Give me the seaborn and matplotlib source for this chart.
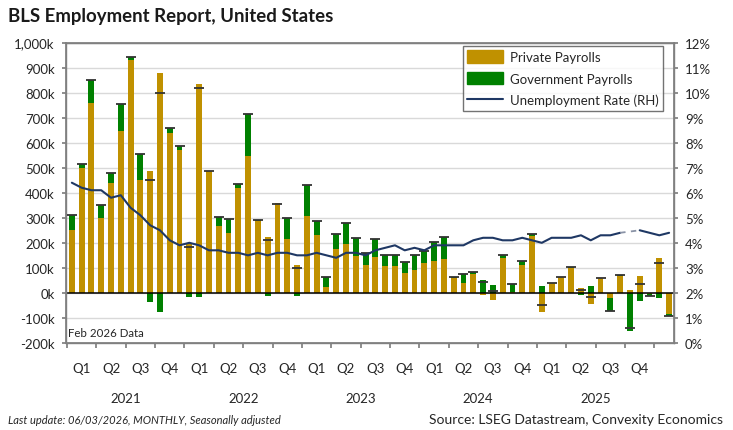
import numpy as np
import pandas as pd
import matplotlib
matplotlib.use('Agg')
import matplotlib.pyplot as plt
from matplotlib.patches import Patch
from matplotlib.lines import Line2D
from matplotlib.ticker import FuncFormatter
import seaborn as sns

# monthly payroll changes, thousands (Jan 2021 .. Feb 2026)
private = [251, 500, 760, 301, 440, 648, 931, 451, 488, 877, 640, 571,
           199, 836, 487, 268, 241, 417, 548, 288, 224, 357, 215, 110,
           309, 232, 25, 176, 196, 149, 112, 143, 109, 109, 80, 93,
           120, 129, 136, 59, 39, 76, -8, -27, 140, 2, 112, 229,
           -77, 39, 63, 101, 19, -44, 60, -19, 68, 12, 69, -3,
           141, -85]
government = [62, 15, 91, 51, 37, 108, 13, 102, -36, -77, 17, 16,
              -15, -17, -2, 36, 56, 16, 167, 2, -11, -2, 85, -12,
              123, 56, 40, 60, 83, 71, 48, 72, 43, 44, 43, 59,
              49, 74, 87, 4, 36, 9, 52, 33, 12, 33, 17, 6,
              29, 1, 1, 4, -8, 27, 0, -52, 4, -153, -33, -9,
              -20, -7]
# unemployment rate, % (Oct 2025 not published)
unemployment = [6.4, 6.2, 6.1, 6.1, 5.8, 5.9, 5.4, 5.1, 4.7, 4.5, 4.1, 3.9,
                4.0, 3.9, 3.7, 3.7, 3.6, 3.6, 3.5, 3.6, 3.5, 3.6, 3.6, 3.5,
                3.5, 3.6, 3.5, 3.4, 3.6, 3.6, 3.5, 3.7, 3.8, 3.9, 3.7, 3.8,
                3.7, 3.9, 3.9, 3.9, 3.9, 4.1, 4.2, 4.2, 4.1, 4.1, 4.2, 4.1,
                4.0, 4.2, 4.2, 4.2, 4.3, 4.1, 4.3, 4.3, 4.4, np.nan, 4.5, 4.4,
                4.3, 4.4]
quarters = ['Q1', 'Q2', 'Q3', 'Q4'] * 5
years = ['2021', '2022', '2023', '2024', '2025']

gold = '#C09100'
green = '#008000'
navy = '#1F3864'

sns.set_theme(style='white')
plt.rcParams['font.family'] = ['Lato', 'DejaVu Sans']

df = pd.DataFrame({'month': np.arange(len(private)), 'private': private,
                   'government': government, 'rate': unemployment})
df['total'] = df['private'] + df['government']
gov_bottom = np.where(np.sign(df['government']) == np.sign(df['private']), df['private'], 0)

fig = plt.figure(figsize=(7.33, 4.31), dpi=100)
ax = fig.add_axes([0.090, 0.202, 0.8295, 0.697])

sns.barplot(data=df, x='month', y='private', native_scale=True, width=0.6,
            color=gold, saturation=1, linewidth=0, ax=ax, zorder=2)
ax.bar(df['month'], df['government'], bottom=gov_bottom, width=0.6,
       color=green, linewidth=0, zorder=2)
ax.plot(df['month'], df['total'], ls='none', marker='_', ms=7, mew=1.3,
        color='#333333', zorder=3)
ax.axhline(0, color='black', lw=1.1, zorder=2.5)

ax.set_xlim(-0.6, 61.5)
ax.set_ylim(-200, 1000)
ax.set_yticks(range(-200, 1001, 100))
ax.yaxis.set_major_formatter(FuncFormatter(lambda v, p: f'{int(v):,}k'))
ax.yaxis.grid(True, color='#D9D9D9', lw=1)
ax.set_axisbelow(True)
ax.set_xticks(np.arange(-0.5, 61, 3))
ax.set_xticklabels([])
ax.set_xlabel('')
ax.set_ylabel('')
ax.tick_params(axis='y', direction='out', length=3, color='#808080',
               labelsize=9.5, labelcolor='#262626', pad=5)
ax.tick_params(axis='x', direction='out', length=3.5, color='#808080', bottom=True)
for s in ax.spines.values():
    s.set_color('#808080')
    s.set_linewidth(1)

ax2 = ax.twinx()
ax2.set_ylim(0, 12)
ax2.set_yticks(range(0, 13))
ax2.yaxis.set_major_formatter(FuncFormatter(lambda v, p: f'{int(v)}%'))
ax2.tick_params(axis='y', direction='out', length=3, color='#808080',
                labelsize=9.5, labelcolor='#262626', pad=5)
sns.lineplot(data=df[df['month'] <= 56], x='month', y='rate', color=navy, lw=1.5, ax=ax2)
sns.lineplot(data=df[df['month'] >= 58], x='month', y='rate', color=navy, lw=1.5, ax=ax2)
ax2.plot([56, 58], [df['rate'][56], df['rate'][58]], ls=(0, (3, 3)), color='#8A93A6', lw=1.3)
ax2.set_ylabel('')
ax2.set_xlabel('')
for s in ax2.spines.values():
    s.set_color('#808080')

# quarter and year labels
for i, q in enumerate(quarters):
    ax.text(1 + 3 * i, -0.083, q, transform=ax.get_xaxis_transform(),
            ha='center', va='center', fontsize=9.5, color='#262626')
for i, y in enumerate(years):
    ax.text(5.5 + 12 * i, -0.183, y, transform=ax.get_xaxis_transform(),
            ha='center', va='center', fontsize=9.5, color='#262626')

ax.text(0.004, 0.035, 'Feb 2026 Data', transform=ax.transAxes, ha='left',
        va='center', fontsize=8.3, color='#262626')

handles = [Patch(color=gold), Patch(color=green), Line2D([], [], color=navy, lw=1.5)]
labels = ['Private Payrolls', 'Government Payrolls', 'Unemployment Rate (RH)']
leg = ax2.legend(handles, labels, loc='upper right', bbox_to_anchor=(0.982, 0.989),
                 frameon=True, fancybox=False, edgecolor='#505050', fontsize=9.5,
                 handlelength=2.7, handleheight=1.05, labelspacing=0.68,
                 handletextpad=0.5, borderpad=0.35, borderaxespad=0)
leg.get_frame().set_linewidth(1)
for t in leg.get_texts():
    t.set_color('#262626')

fig.text(0.011, 0.9606, 'BLS Employment Report, United States', fontsize=13.4,
         fontweight='bold', ha='left', va='center', color='#1a1a1a')
fig.text(0.011, 0.0255, 'Last update: 06/03/2026, MONTHLY, Seasonally adjusted',
         fontsize=8.0, style='italic', ha='left', va='center', color='#262626')
fig.text(0.986, 0.0255, 'Source: LSEG Datastream, Convexity Economics',
         fontsize=10, ha='right', va='center', color='#262626')

fig.savefig('out.png', dpi=100)
